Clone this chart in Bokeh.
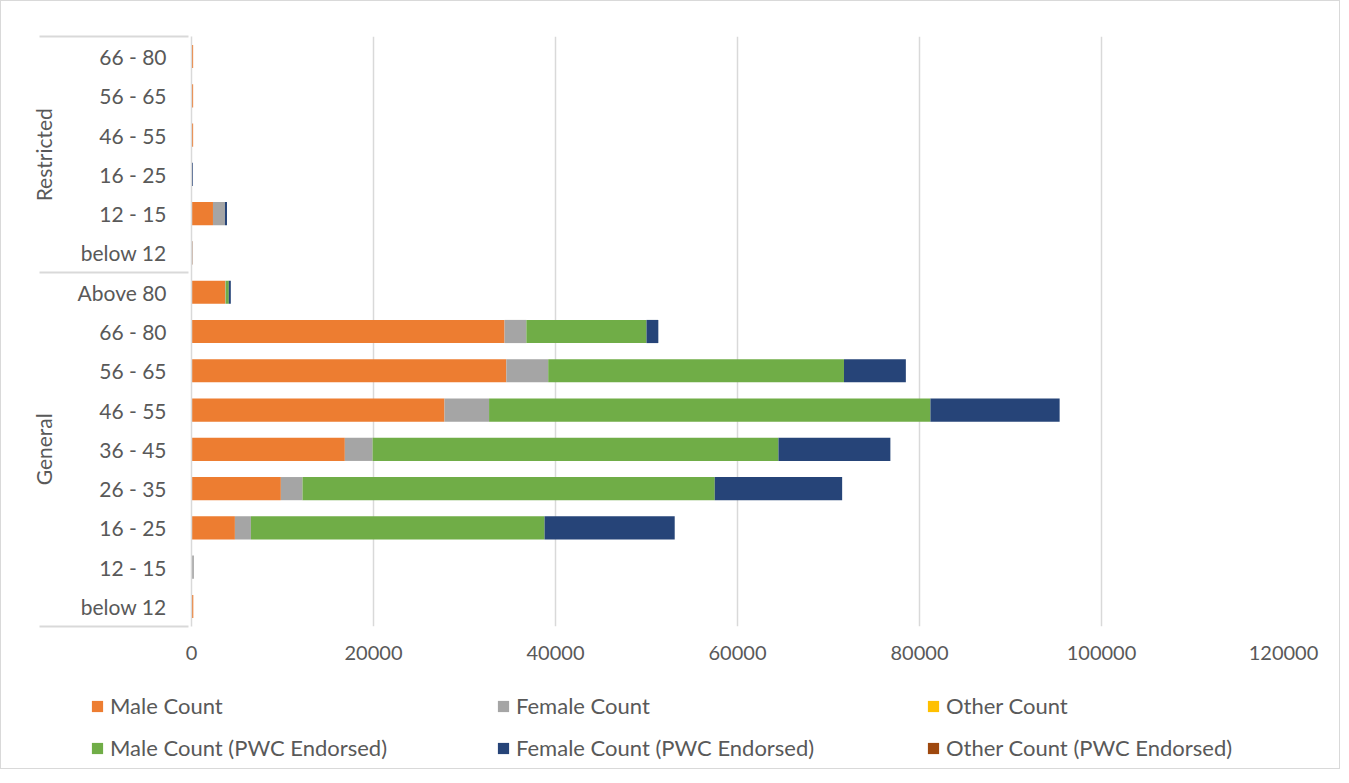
from bokeh.plotting import figure
from bokeh.layouts import column
from bokeh.models import (FactorRange, Range1d, ColumnDataSource, NumeralTickFormatter,
                          SingleIntervalTicker, Legend, LegendItem)
from bokeh.embed import file_html
from bokeh.resources import INLINE

# ---------------- data ----------------
groups = ["General"] * 9 + ["Restricted"] * 6
ages = ["below 12", "12 - 15", "16 - 25", "26 - 35", "36 - 45", "46 - 55", "56 - 65", "66 - 80", "Above 80",
        "below 12", "12 - 15", "16 - 25", "46 - 55", "56 - 65", "66 - 80"]

male_count          = [200, 60, 4770, 9820, 16850, 27800, 34600, 34400, 3700, 100, 2360, 0, 180, 180, 180]
female_count        = [0, 200, 1760, 2380, 3050, 4900, 4600, 2400, 50, 60, 1320, 0, 0, 0, 0]
other_count         = [0, 0, 0, 0, 0, 0, 0, 0, 0, 0, 0, 0, 0, 0, 0]
male_count_pwc      = [0, 0, 32270, 45300, 44600, 48500, 32500, 13200, 350, 0, 0, 0, 0, 0, 0]
female_count_pwc    = [0, 0, 14300, 14000, 12300, 14200, 6800, 1300, 220, 0, 220, 150, 0, 0, 0]
other_count_pwc     = [0, 0, 0, 0, 0, 0, 0, 0, 0, 0, 0, 0, 0, 0, 0]

series_names = ["Male Count", "Female Count", "Other Count",
                "Male Count (PWC Endorsed)", "Female Count (PWC Endorsed)", "Other Count (PWC Endorsed)"]
series_colors = ["#ED7D31", "#A5A5A5", "#FFC000", "#70AD47", "#264478", "#9E480E"]

x_ticks_interval = 20000
x_max = 120000

# ---------------- build ----------------
factors = list(zip(groups, ages))
source = ColumnDataSource(dict(
    cat=factors,
    **{series_names[0]: male_count, series_names[1]: female_count, series_names[2]: other_count,
       series_names[3]: male_count_pwc, series_names[4]: female_count_pwc, series_names[5]: other_count_pwc}))

W = 1338
H1, H2 = 680, 87
FONT = "Lato"
TXT = "#595959"
GRID = "#D9D9D9"

# hidden edge factors (outside the visible range) so that the axis draws
# group separators at the top and bottom edges as well
edge_lo, edge_hi = (" ", " "), ("  ", "  ")
yr = FactorRange(edge_lo, *factors, edge_hi, group_padding=0, factor_padding=0,
                 range_padding=-0.99, range_padding_units="absolute")
xr = Range1d(0, x_max)

p = figure(width=W, height=H1, output_backend="svg", toolbar_location=None,
           y_range=yr, x_range=xr, frame_align=False,
           min_border_left=190, min_border_right=W - 1282, min_border_top=35, min_border_bottom=55)

p.hbar_stack(series_names, y="cat", height=0.59, fill_color=series_colors, line_color=None,
             source=source)

p.outline_line_color = None
p.ygrid.grid_line_color = None
p.xgrid.grid_line_color = GRID
p.xgrid.grid_line_width = 1.5

xa = p.xaxis[0]
xa.ticker = SingleIntervalTicker(interval=x_ticks_interval)
xa.formatter = NumeralTickFormatter(format="0")
xa.axis_line_color = None
xa.major_tick_line_color = None
xa.minor_tick_line_color = None
xa.major_label_standoff = 13
xa.major_label_text_font = FONT
xa.major_label_text_font_size = "20px"
xa.major_label_text_color = TXT

ya = p.yaxis[0]
ya.axis_line_color = GRID
ya.axis_line_width = 1.5
ya.major_tick_line_color = None
ya.minor_tick_line_color = None
ya.major_label_standoff = 19
ya.major_label_text_font = FONT
ya.major_label_text_font_size = "21px"
ya.major_label_text_color = TXT
ya.group_text_font = FONT
ya.group_text_font_size = "21px"
ya.group_text_color = TXT
ya.group_text_font_style = "normal"
ya.separator_line_color = GRID
ya.separator_line_width = 2

# ---------------- legend strip (swatches only: zero-height bars) ----------------
p2 = figure(width=W, height=H2, output_backend="svg", toolbar_location=None,
            x_range=xr, y_range=yr, frame_align=False,
            min_border_left=0, min_border_right=0, min_border_top=0, min_border_bottom=0)
p2.axis.visible = False
p2.grid.grid_line_color = None
p2.outline_line_color = None
swatches = p2.hbar_stack(series_names, y="cat", height=0, fill_color=series_colors,
                         line_color=None, source=source)

legend_x = [89, 495, 925]
for c in range(3):
    items = [LegendItem(label=series_names[c], renderers=[swatches[c]]),
             LegendItem(label=series_names[c + 3], renderers=[swatches[c + 3]])]
    lg = Legend(items=items, location=(legend_x[c], 7), orientation="vertical",
                padding=0, margin=0, spacing=15, label_height=24, glyph_width=14, glyph_height=14,
                label_standoff=6, label_text_font=FONT, label_text_font_size="22px",
                label_text_color=TXT, border_line_color=None, background_fill_alpha=0)
    p2.add_layout(lg)

layout = column(p, p2, spacing=0, styles={"border": "1px solid #D9D9D9"})

open("out.html", "w").write(file_html(layout, INLINE))
